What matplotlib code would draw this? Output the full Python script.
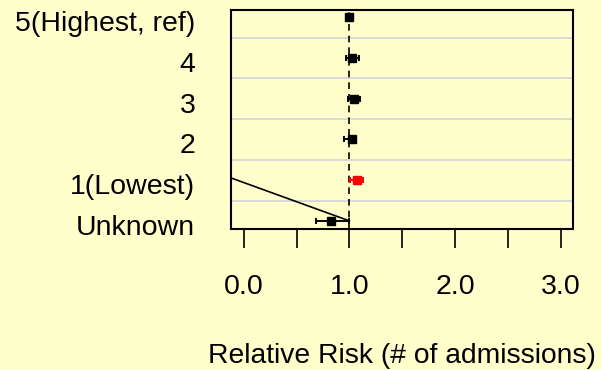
import matplotlib
matplotlib.use("Agg")
import matplotlib.pyplot as plt
import matplotlib.transforms as mtransforms

plt.rcParams['font.family'] = ['Liberation Sans', 'DejaVu Sans']

# Income quintile groups, top to bottom
categories = ["5(Highest, ref)", "4", "3", "2", "1(Lowest)", "Unknown"]
rr = [1.00, 1.027, 1.046, 1.020, 1.069, 0.829]
ci_low = [1.00, 0.968, 0.984, 0.952, 1.009, 0.684]
ci_high = [1.00, 1.090, 1.103, 1.060, 1.131, 1.000]
colors = ["black", "black", "black", "black", "red", "black"]
xtick_labels = ["0.0", "1.0", "2.0", "3.0"]
xtick_values = [0.0, 1.0, 2.0, 3.0]
minor_values = [0.5, 1.5, 2.5]

bg = "#FFFFCC"
fig = plt.figure(figsize=(6.01, 3.70), dpi=100, facecolor=bg)
ax = fig.add_axes([0.385, 0.381, 0.569, 0.593], facecolor=bg)

n = len(categories)
ypos = [n - 1 - i for i in range(n)]

# row separators
for k in range(n - 1):
    ax.axhline(k + 0.5, color="#d6d6d6", lw=1.3, zorder=1)

# reference line at RR = 1
ax.axvline(1.0, color="black", lw=1.2, ls=(0, (4, 3)), zorder=2)

# connector line
ax.plot([-0.2, 1.0], [1.13, 0.0], color="black", lw=1.2, zorder=3)

for y, m, lo, hi, c in zip(ypos, rr, ci_low, ci_high, colors):
    ax.errorbar([m], [y], xerr=[[m - lo], [hi - m]], fmt="s", color=c,
                ms=5.5, mec=c, mfc=c, ecolor=c, elinewidth=1.4,
                capsize=2.5, capthick=1.4, zorder=4)

ax.set_xlim(-0.117, 3.118)
ax.set_ylim(-0.2, 5.19)

ax.set_yticks(ypos)
ax.set_yticklabels(categories, fontsize=20.5)
ax.tick_params(axis="y", length=0, pad=26)
offset = mtransforms.ScaledTranslation(0, -4 / 100, fig.dpi_scale_trans)
for lab in ax.get_yticklabels():
    lab.set_transform(lab.get_transform() + offset)

ax.set_xticks(xtick_values)
ax.set_xticklabels(xtick_labels, fontsize=20.5)
ax.set_xticks(minor_values, minor=True)
ax.tick_params(axis="x", which="both", direction="out", length=14, width=1.2,
               pad=18.5, color="black")

ax.set_xlabel("Relative Risk (# of admissions)", fontsize=20.3, labelpad=31)

for s in ax.spines.values():
    s.set_linewidth(1.5)
    s.set_color("black")

fig.savefig("out.png", dpi=100, facecolor=bg)
